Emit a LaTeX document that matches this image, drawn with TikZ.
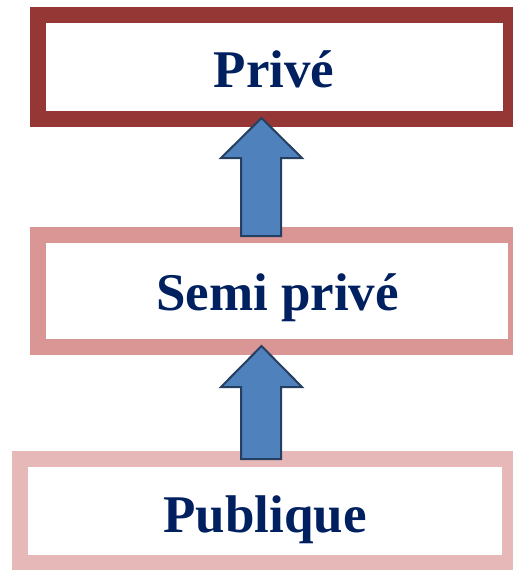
\documentclass[tikz,border=0pt]{standalone}
\usepackage{fontspec}
\setmainfont{Liberation Serif}
\definecolor{darkred}{HTML}{953735}
\definecolor{midpink}{HTML}{D99694}
\definecolor{lightpink}{HTML}{E6B9B8}
\definecolor{navytext}{HTML}{002060}
\definecolor{arrowfill}{HTML}{4F81BD}
\definecolor{arrowline}{HTML}{243F60}
\begin{document}
\begin{tikzpicture}[x=1pt,y=1pt,
  levelbox/.style={draw=#1, line width=16pt, fill=white, rectangle, inner sep=0pt},
  leveltext/.style={anchor=base, text=navytext, font=\fontsize{53}{60}\selectfont\bfseries, inner sep=0pt},
  uparrow/.style={fill=arrowfill, draw=arrowline, line width=2pt, line join=miter}]
  \useasboundingbox (0,0) rectangle (512,-570);

  % three levels, framed boxes
  \node[levelbox=darkred, minimum width=473pt, minimum height=103.5pt] (prive) at (274.5,-66.75) {};
  \node[levelbox=midpink, minimum width=478pt, minimum height=112pt] (semi) at (277,-291) {};
  \node[levelbox=lightpink, minimum width=490pt, minimum height=104pt] (publique) at (265,-511) {};

  \node[leveltext] (tprive) at (274,-87) {Privé};
  \node[leveltext] (tsemi) at (277.5,-310) {Semi privé};
  \node[leveltext] (tpublique) at (265,-532) {Publique};

  % block arrows pointing up from each level to the next
  \coordinate (a1tip) at (261.5,-118);
  \coordinate (a2tip) at (261.5,-346);
  \draw[uparrow] (a1tip) -- (302,-158) -- (281,-158) -- (281,-236) -- (241,-236) -- (241,-158) -- (221,-158) -- cycle;
  \draw[uparrow] (a2tip) -- (302,-387) -- (281,-387) -- (281,-459) -- (241,-459) -- (241,-387) -- (221,-387) -- cycle;
\end{tikzpicture}
\end{document}
